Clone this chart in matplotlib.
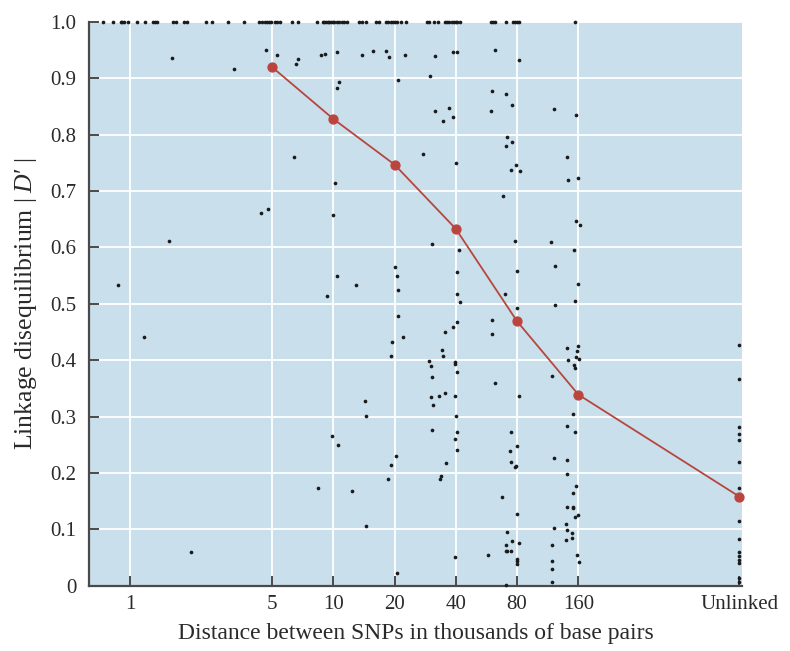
import matplotlib
matplotlib.use("Agg")
import matplotlib.pyplot as plt
import numpy as np

plt.rcParams['font.family'] = ['Liberation Serif', 'DejaVu Serif']
plt.rcParams['mathtext.fontset'] = 'custom'
plt.rcParams['mathtext.rm'] = 'Liberation Serif'
plt.rcParams['mathtext.it'] = 'Liberation Serif:italic'

UNLINKED = 990

# ---- data ----
tick_values = [1, 5, 10, 20, 40, 80, 160, UNLINKED]
tick_labels = ['1', '5', '10', '20', '40', '80', '160', 'Unlinked']

mean_x = [5, 10, 20, 40, 80, 160, UNLINKED]
mean_y = [0.920, 0.828, 0.747, 0.633, 0.469, 0.339, 0.158]

# pairs with |D'| = 1.0 (distance in kb)
top_x = [0.736, 0.829, 0.902, 0.918, 0.936, 0.983, 1.088, 1.19, 1.295, 1.33, 1.365,
         1.635, 1.686, 1.85, 1.90, 2.37, 2.53, 3.05, 3.65, 4.33, 4.45, 4.63, 4.74,
         4.85, 4.92, 5.17, 5.31, 5.47, 6.27, 6.73, 8.35, 8.87, 9.03, 9.21, 9.39, 9.56,
         9.74, 9.93, 10.11, 10.39, 10.70, 11.0, 11.33, 11.64, 13.42, 13.79, 14.43,
         16.16, 16.77, 18.15, 18.64, 19.15, 19.59, 20.1, 20.5, 21.4, 22.8, 28.8, 29.6,
         31.4, 32.8, 35.4, 36.3, 37.2, 38.2, 39.2, 39.9, 40.7, 42.0, 59.4, 60.7, 62.3,
         70.6, 76.2, 78.2, 79.7, 81.8, 154]

# other pairs: distance (kb)
pair_x = [1.61, 3.26, 4.65, 5.29, 4.40, 4.79, 1.56, 0.875, 1.18, 2.00,
          6.54, 6.73, 8.67, 9.10, 10.46, 13.84, 15.73, 18.15, 18.71, 22.4, 10.7, 10.46,
          20.9, 6.43, 10.16, 10.0, 20.05, 20.6, 20.9, 10.46, 12.9, 9.31, 20.9, 22.1,
          19.4, 19.15, 14.27, 14.48, 9.85, 10.58, 20.3, 19.15, 18.6, 8.44, 12.4, 14.48,
          20.6,
          31.5, 38.9, 40.7, 29.8, 31.5, 36.9, 34.7, 38.9, 27.6, 40.1, 30.6, 41.3, 40.5,
          40.7, 42.0, 40.7, 38.9, 35.3, 34.2, 34.7, 29.4, 30.2, 39.5, 39.5, 40.7, 30.6,
          30.1, 33.0, 35.4, 39.5, 31.0, 40.1, 30.6, 40.7, 39.5, 40.7, 35.8, 33.7, 33.3,
          39.5, 57.8,
          62.1, 81.5, 60.5, 70.6, 75.8, 59.6, 121, 156, 71.6, 70.6, 75.8, 79.0, 74.7,
          82.7, 140, 143, 160, 68.5, 156, 163, 77.9, 117, 152, 123, 80, 160, 69.6, 123,
          154, 80, 60.5, 60.5, 140, 160, 158, 143, 156, 161, 152, 154, 119, 62.1, 81.5,
          151, 141, 154, 74.7, 80, 73.6, 121, 140, 74.7, 79.0, 77.9, 141, 156, 150, 67.7,
          140, 150, 151, 154, 160, 80, 121, 139.6, 141, 139.6, 149.5, 149.5, 71.6, 70.6,
          70.6, 71.6, 74.7, 75.8, 81.5, 119, 80, 80, 80, 158, 161, 119, 119, 70.6, 119]
# other pairs: |D'|
pair_y = [0.936, 0.916, 0.950, 0.941, 0.661, 0.669, 0.611, 0.534, 0.442, 0.060,
          0.925, 0.934, 0.942, 0.944, 0.947, 0.941, 0.949, 0.949, 0.938, 0.941, 0.893,
          0.883, 0.898, 0.761, 0.714, 0.658, 0.565, 0.549, 0.525, 0.549, 0.534, 0.514,
          0.478, 0.441, 0.432, 0.407, 0.328, 0.301, 0.266, 0.250, 0.230, 0.215, 0.189,
          0.173, 0.168, 0.106, 0.022,
          0.940, 0.947, 0.947, 0.904, 0.842, 0.847, 0.825, 0.832, 0.765, 0.749, 0.607,
          0.596, 0.556, 0.518, 0.503, 0.468, 0.459, 0.450, 0.419, 0.408, 0.399, 0.389,
          0.397, 0.394, 0.379, 0.370, 0.335, 0.337, 0.341, 0.337, 0.320, 0.301, 0.277,
          0.272, 0.261, 0.241, 0.218, 0.194, 0.190, 0.051, 0.054,
          0.950, 0.932, 0.878, 0.873, 0.853, 0.842, 0.845, 0.835, 0.796, 0.780, 0.787,
          0.747, 0.738, 0.736, 0.760, 0.720, 0.723, 0.692, 0.647, 0.639, 0.611, 0.609,
          0.596, 0.567, 0.558, 0.536, 0.518, 0.498, 0.505, 0.492, 0.472, 0.447, 0.422,
          0.425, 0.416, 0.401, 0.406, 0.403, 0.392, 0.387, 0.372, 0.359, 0.336, 0.305,
          0.284, 0.273, 0.273, 0.248, 0.239, 0.226, 0.223, 0.219, 0.213, 0.210, 0.199,
          0.177, 0.165, 0.157, 0.139, 0.140, 0.138, 0.122, 0.126, 0.128, 0.102, 0.110,
          0.0995, 0.081, 0.094, 0.084, 0.095, 0.073, 0.062, 0.062, 0.062, 0.080, 0.076,
          0.073, 0.048, 0.043, 0.039, 0.055, 0.042, 0.044, 0.030, 0.002, 0.006]

# unlinked pairs: |D'|
unlinked_y = [0.427, 0.367, 0.282, 0.270, 0.258, 0.220, 0.174, 0.114, 0.082, 0.060,
              0.052, 0.046, 0.040, 0.014, 0.006]

# ---- figure ----
fig = plt.figure(figsize=(7.9, 6.51), dpi=100)
ax = fig.add_axes([0.1127, 0.1003, 0.8266, 0.8659])
bg = '#c9dfec'
ax.set_facecolor(bg)
ax.set_xscale('log')
ax.set_xlim(0.63, 1020)
ax.set_ylim(0, 1.0)

dot_color = '#1a1a1a'
dot_size = 7
ax.scatter(top_x, [1.0] * len(top_x), s=dot_size, color=dot_color, zorder=3,
           clip_on=False, linewidths=0)
ax.scatter(pair_x, pair_y, s=dot_size, color=dot_color, zorder=3, clip_on=False,
           linewidths=0)
ax.scatter([UNLINKED] * len(unlinked_y), unlinked_y, s=dot_size, color=dot_color,
           zorder=3, clip_on=False, linewidths=0)

ax.plot(mean_x, mean_y, color='#b7463d', lw=1.3, marker='o', ms=6.4,
        markerfacecolor='#bb453e', markeredgecolor='#bb453e', zorder=4,
        clip_on=False)

ax.set_xticks(tick_values)
ax.set_xticklabels(tick_labels)
ax.xaxis.set_minor_locator(matplotlib.ticker.NullLocator())
ax.set_yticks(np.arange(0, 1.01, 0.1))
ax.set_yticklabels(['0'] + ['%.1f' % v for v in np.arange(0.1, 1.01, 0.1)])

ax.grid(True, color='white', lw=1.3, zorder=1)
ax.set_axisbelow(True)
ax.get_xgridlines()[-1].set_visible(False)
ax.get_ygridlines()[0].set_visible(False)

for s in ['top', 'right']:
    ax.spines[s].set_visible(False)
for s in ['left', 'bottom']:
    ax.spines[s].set_color('#4a4a4a')
    ax.spines[s].set_linewidth(1.6)

ax.tick_params(axis='both', direction='in', length=7, width=1.4,
               color='#4a4a4a', labelsize=15, labelcolor='#2a2a2a')
ax.tick_params(axis='y', pad=9)
ax.tick_params(axis='x', pad=7)

ax.set_xlabel('Distance between SNPs in thousands of base pairs', fontsize=17,
              color='#2a2a2a', labelpad=6)
ax.set_ylabel("Linkage disequilibrium |\u2009$\\mathit{D}$\u2032\u2009|", fontsize=18.5,
              color='#2a2a2a', labelpad=8)

fig.savefig('out.png', dpi=100)
